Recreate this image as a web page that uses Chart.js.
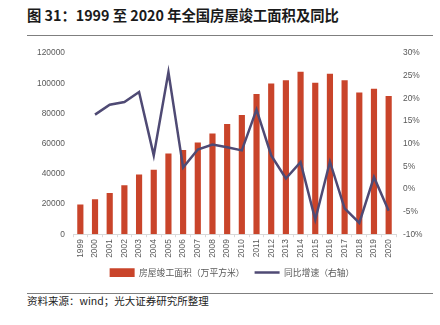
<!DOCTYPE html>
<html>
<head>
<meta charset="utf-8">
<script src="https://cdn.jsdelivr.net/npm/chart.js@4"></script>
<style>
  html, body { margin: 0; padding: 0; background: #fff; }
  body { width: 440px; height: 325px; position: relative; overflow: hidden; font-family: "Noto Sans CJK SC", "Noto Sans", sans-serif; }
  #title { position: absolute; left: 27px; top: 4px; font-size: 14.3px; font-weight: bold; color: #1a1a1a; white-space: nowrap; }
  .rule { position: absolute; left: 27px; width: 406px; height: 1px; background: #7f7f7f; }
  #wrap { position: absolute; left: 0; top: 40px; width: 440px; height: 247px; }
  #note { position: absolute; left: 27px; top: 293px; font-size: 10.5px; color: #222; white-space: nowrap; }
</style>
</head>
<body>
<div id="title">图 31：1999 至 2020 年全国房屋竣工面积及同比</div>
<div class="rule" style="top:35px"></div>
<div id="wrap"><canvas id="historicalChart"></canvas></div>
<div class="rule" style="top:293px"></div>
<div id="note">资料来源：wind；光大证券研究所整理</div>

<script>
// 年份
const years = ['1999', '2000', '2001', '2002', '2003', '2004', '2005', '2006', '2007', '2008', '2009',
  '2010', '2011', '2012', '2013', '2014', '2015', '2016', '2017', '2018', '2019', '2020'];

// 房屋竣工面积（万平方米）
const completedArea = [19600, 23100, 27300, 32500, 39500, 42700, 53400, 55800, 60800, 66700, 73000,
  78900, 92800, 99800, 102000, 107600, 100400, 106300, 102000, 93900, 96300, 91500];

// 同比增速（%）
const yoyGrowth = [null, 16.4, 18.6, 19.2, 21.4, 7.4, 25.8, 4.7, 8.7, 9.8, 9.2,
  8.5, 17.5, 7.4, 2.3, 5.9, -6.8, 6.0, -4.3, -7.5, 2.6, -4.8];

const leftTicks = [0, 20000, 40000, 60000, 80000, 100000, 120000];
const rightTicks = [-10, -5, 0, 5, 10, 15, 20, 25, 30];

const tickFont = { family: '"Liberation Sans", Arial, sans-serif', size: 8.4 };
const tickColor = '#595959';

function buildChart() {
  const ctx = document.getElementById('historicalChart').getContext('2d');
  new Chart(ctx, {
    data: {
      labels: years,
      datasets: [
        {
          type: 'line',
          label: '同比增速（右轴）',
          data: yoyGrowth,
          yAxisID: 'y1',
          borderColor: '#4f4a74',
          backgroundColor: '#4f4a74',
          borderWidth: 2.5,
          pointRadius: 0,
          pointStyle: 'line',
          tension: 0,
          order: 0,
        },
        {
          type: 'bar',
          label: '房屋竣工面积（万平方米）',
          data: completedArea,
          yAxisID: 'y',
          backgroundColor: '#c9442a',
          barPercentage: 0.42,
          categoryPercentage: 1,
          pointStyle: 'rect',
          order: 1,
        },
      ],
    },
    options: {
      responsive: true,
      maintainAspectRatio: false,
      animation: false,
      layout: { padding: { top: 7, left: 24, right: 0, bottom: 0 } },
      plugins: {
        tooltip: { enabled: false },
        legend: {
          position: 'bottom',
          reverse: true,
          labels: {
            usePointStyle: true,
            pointStyleWidth: 25,
            boxHeight: 9,
            padding: 10,
            color: '#595959',
            font: { family: '"Noto Sans CJK SC", sans-serif', size: 8.8 },
          },
        },
      },
      scales: {
        x: {
          grid: { display: true, drawOnChartArea: false, drawTicks: true, tickLength: 3, color: '#d9d9d9' },
          border: { display: true, color: '#d9d9d9' },
          ticks: {
            color: tickColor,
            font: tickFont,
            minRotation: 90,
            maxRotation: 90,
            padding: 2,
            autoSkip: false,
          },
          afterFit: (scale) => { scale.height = 24; },
        },
        y: {
          position: 'left',
          min: 0,
          max: 120000,
          grid: { display: false, drawTicks: false },
          border: { display: false },
          afterBuildTicks: (scale) => { scale.ticks = leftTicks.map(v => ({ value: v })); },
          ticks: { color: tickColor, font: tickFont, padding: 8, callback: (v) => String(v) },
          afterFit: (scale) => { scale.width = 49; },
        },
        y1: {
          position: 'right',
          min: -10,
          max: 30,
          grid: { display: false, drawTicks: false },
          border: { display: false },
          afterBuildTicks: (scale) => { scale.ticks = rightTicks.map(v => ({ value: v })); },
          ticks: {
            color: tickColor,
            font: tickFont,
            padding: 7,
            callback: (v) => v + '%',
          },
          afterFit: (scale) => { scale.width = 44; },
        },
      },
    },
  });
}

document.addEventListener('DOMContentLoaded', buildChart);
</script>
</body>
</html>
